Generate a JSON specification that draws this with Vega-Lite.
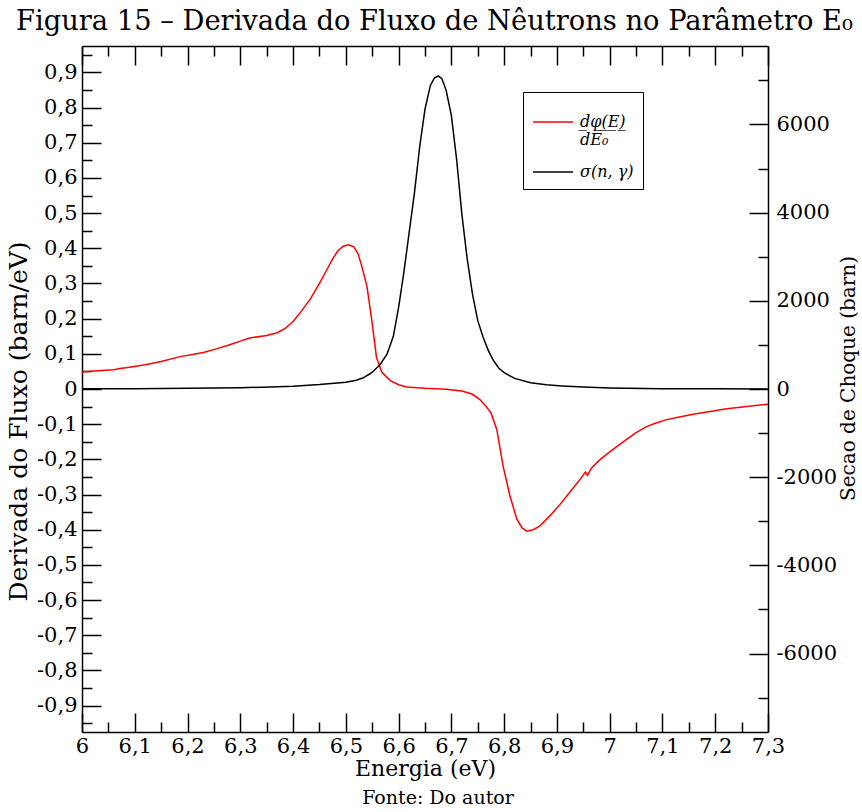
{
  "$schema": "https://vega.github.io/schema/vega-lite/v6.json",
  "width": 686,
  "height": 686,
  "autosize": {"type": "none"},
  "padding": {"left": 82, "top": 46, "right": 94, "bottom": 80},
  "background": "white",
  "title": {"text": "Fonte: Do autor", "orient": "bottom", "font": "DejaVu Serif", "fontSize": 19, "fontWeight": "normal", "color": "black", "anchor": "middle", "dx": 13, "offset": 10},
  "datasets": {
    "flux": [
      {"E": 6.0, "v": 0.048, "serie": "dφ(E)/dE₀"},
      {"E": 6.03, "v": 0.052, "serie": "dφ(E)/dE₀"},
      {"E": 6.06, "v": 0.055, "serie": "dφ(E)/dE₀"},
      {"E": 6.072, "v": 0.058, "serie": "dφ(E)/dE₀"},
      {"E": 6.09, "v": 0.062, "serie": "dφ(E)/dE₀"},
      {"E": 6.12, "v": 0.069, "serie": "dφ(E)/dE₀"},
      {"E": 6.15, "v": 0.078, "serie": "dφ(E)/dE₀"},
      {"E": 6.186, "v": 0.092, "serie": "dφ(E)/dE₀"},
      {"E": 6.21, "v": 0.098, "serie": "dφ(E)/dE₀"},
      {"E": 6.23, "v": 0.104, "serie": "dφ(E)/dE₀"},
      {"E": 6.255, "v": 0.114, "serie": "dφ(E)/dE₀"},
      {"E": 6.28, "v": 0.126, "serie": "dφ(E)/dE₀"},
      {"E": 6.30, "v": 0.136, "serie": "dφ(E)/dE₀"},
      {"E": 6.318, "v": 0.145, "serie": "dφ(E)/dE₀"},
      {"E": 6.35, "v": 0.152, "serie": "dφ(E)/dE₀"},
      {"E": 6.37, "v": 0.160, "serie": "dφ(E)/dE₀"},
      {"E": 6.385, "v": 0.172, "serie": "dφ(E)/dE₀"},
      {"E": 6.40, "v": 0.192, "serie": "dφ(E)/dE₀"},
      {"E": 6.415, "v": 0.220, "serie": "dφ(E)/dE₀"},
      {"E": 6.432, "v": 0.254, "serie": "dφ(E)/dE₀"},
      {"E": 6.45, "v": 0.300, "serie": "dφ(E)/dE₀"},
      {"E": 6.464, "v": 0.339, "serie": "dφ(E)/dE₀"},
      {"E": 6.475, "v": 0.370, "serie": "dφ(E)/dE₀"},
      {"E": 6.485, "v": 0.393, "serie": "dφ(E)/dE₀"},
      {"E": 6.495, "v": 0.406, "serie": "dφ(E)/dE₀"},
      {"E": 6.505, "v": 0.410, "serie": "dφ(E)/dE₀"},
      {"E": 6.515, "v": 0.404, "serie": "dφ(E)/dE₀"},
      {"E": 6.523, "v": 0.385, "serie": "dφ(E)/dE₀"},
      {"E": 6.53, "v": 0.350, "serie": "dφ(E)/dE₀"},
      {"E": 6.54, "v": 0.292, "serie": "dφ(E)/dE₀"},
      {"E": 6.549, "v": 0.197, "serie": "dφ(E)/dE₀"},
      {"E": 6.558, "v": 0.090, "serie": "dφ(E)/dE₀"},
      {"E": 6.568, "v": 0.048, "serie": "dφ(E)/dE₀"},
      {"E": 6.584, "v": 0.024, "serie": "dφ(E)/dE₀"},
      {"E": 6.60, "v": 0.012, "serie": "dφ(E)/dE₀"},
      {"E": 6.615, "v": 0.006, "serie": "dφ(E)/dE₀"},
      {"E": 6.65, "v": 0.002, "serie": "dφ(E)/dE₀"},
      {"E": 6.69, "v": -0.001, "serie": "dφ(E)/dE₀"},
      {"E": 6.72, "v": -0.006, "serie": "dφ(E)/dE₀"},
      {"E": 6.74, "v": -0.015, "serie": "dφ(E)/dE₀"},
      {"E": 6.754, "v": -0.030, "serie": "dφ(E)/dE₀"},
      {"E": 6.765, "v": -0.048, "serie": "dφ(E)/dE₀"},
      {"E": 6.775, "v": -0.068, "serie": "dφ(E)/dE₀"},
      {"E": 6.786, "v": -0.115, "serie": "dφ(E)/dE₀"},
      {"E": 6.798, "v": -0.219, "serie": "dφ(E)/dE₀"},
      {"E": 6.811, "v": -0.304, "serie": "dφ(E)/dE₀"},
      {"E": 6.824, "v": -0.370, "serie": "dφ(E)/dE₀"},
      {"E": 6.834, "v": -0.395, "serie": "dφ(E)/dE₀"},
      {"E": 6.843, "v": -0.404, "serie": "dφ(E)/dE₀"},
      {"E": 6.855, "v": -0.400, "serie": "dφ(E)/dE₀"},
      {"E": 6.868, "v": -0.389, "serie": "dφ(E)/dE₀"},
      {"E": 6.887, "v": -0.360, "serie": "dφ(E)/dE₀"},
      {"E": 6.906, "v": -0.328, "serie": "dφ(E)/dE₀"},
      {"E": 6.925, "v": -0.292, "serie": "dφ(E)/dE₀"},
      {"E": 6.944, "v": -0.257, "serie": "dφ(E)/dE₀"},
      {"E": 6.954, "v": -0.236, "serie": "dφ(E)/dE₀"},
      {"E": 6.958, "v": -0.245, "serie": "dφ(E)/dE₀"},
      {"E": 6.965, "v": -0.226, "serie": "dφ(E)/dE₀"},
      {"E": 6.98, "v": -0.203, "serie": "dφ(E)/dE₀"},
      {"E": 6.994, "v": -0.186, "serie": "dφ(E)/dE₀"},
      {"E": 7.012, "v": -0.165, "serie": "dφ(E)/dE₀"},
      {"E": 7.032, "v": -0.143, "serie": "dφ(E)/dE₀"},
      {"E": 7.05, "v": -0.124, "serie": "dφ(E)/dE₀"},
      {"E": 7.07, "v": -0.107, "serie": "dφ(E)/dE₀"},
      {"E": 7.085, "v": -0.098, "serie": "dφ(E)/dE₀"},
      {"E": 7.108, "v": -0.087, "serie": "dφ(E)/dE₀"},
      {"E": 7.13, "v": -0.080, "serie": "dφ(E)/dE₀"},
      {"E": 7.158, "v": -0.072, "serie": "dφ(E)/dE₀"},
      {"E": 7.19, "v": -0.064, "serie": "dφ(E)/dE₀"},
      {"E": 7.222, "v": -0.056, "serie": "dφ(E)/dE₀"},
      {"E": 7.26, "v": -0.050, "serie": "dφ(E)/dE₀"},
      {"E": 7.30, "v": -0.043, "serie": "dφ(E)/dE₀"}
    ],
    "sigma": [
      {"E": 6.0, "s": 3, "serie": "σ(n, γ)"},
      {"E": 6.1, "s": 8, "serie": "σ(n, γ)"},
      {"E": 6.2, "s": 15, "serie": "σ(n, γ)"},
      {"E": 6.3, "s": 28, "serie": "σ(n, γ)"},
      {"E": 6.4, "s": 60, "serie": "σ(n, γ)"},
      {"E": 6.45, "s": 100, "serie": "σ(n, γ)"},
      {"E": 6.5, "s": 155, "serie": "σ(n, γ)"},
      {"E": 6.52, "s": 200, "serie": "σ(n, γ)"},
      {"E": 6.533, "s": 254, "serie": "σ(n, γ)"},
      {"E": 6.545, "s": 340, "serie": "σ(n, γ)"},
      {"E": 6.552, "s": 403, "serie": "σ(n, γ)"},
      {"E": 6.565, "s": 555, "serie": "σ(n, γ)"},
      {"E": 6.578, "s": 790, "serie": "σ(n, γ)"},
      {"E": 6.59, "s": 1196, "serie": "σ(n, γ)"},
      {"E": 6.60, "s": 1850, "serie": "σ(n, γ)"},
      {"E": 6.61, "s": 2650, "serie": "σ(n, γ)"},
      {"E": 6.62, "s": 3550, "serie": "σ(n, γ)"},
      {"E": 6.63, "s": 4450, "serie": "σ(n, γ)"},
      {"E": 6.64, "s": 5500, "serie": "σ(n, γ)"},
      {"E": 6.65, "s": 6350, "serie": "σ(n, γ)"},
      {"E": 6.66, "s": 6880, "serie": "σ(n, γ)"},
      {"E": 6.668, "s": 7060, "serie": "σ(n, γ)"},
      {"E": 6.675, "s": 7100, "serie": "σ(n, γ)"},
      {"E": 6.682, "s": 7040, "serie": "σ(n, γ)"},
      {"E": 6.69, "s": 6780, "serie": "σ(n, γ)"},
      {"E": 6.70, "s": 6200, "serie": "σ(n, γ)"},
      {"E": 6.71, "s": 5200, "serie": "σ(n, γ)"},
      {"E": 6.72, "s": 3950, "serie": "σ(n, γ)"},
      {"E": 6.73, "s": 2950, "serie": "σ(n, γ)"},
      {"E": 6.74, "s": 2150, "serie": "σ(n, γ)"},
      {"E": 6.75, "s": 1550, "serie": "σ(n, γ)"},
      {"E": 6.76, "s": 1180, "serie": "σ(n, γ)"},
      {"E": 6.77, "s": 870, "serie": "σ(n, γ)"},
      {"E": 6.78, "s": 640, "serie": "σ(n, γ)"},
      {"E": 6.79, "s": 470, "serie": "σ(n, γ)"},
      {"E": 6.80, "s": 370, "serie": "σ(n, γ)"},
      {"E": 6.82, "s": 240, "serie": "σ(n, γ)"},
      {"E": 6.85, "s": 140, "serie": "σ(n, γ)"},
      {"E": 6.88, "s": 95, "serie": "σ(n, γ)"},
      {"E": 6.91, "s": 70, "serie": "σ(n, γ)"},
      {"E": 6.95, "s": 45, "serie": "σ(n, γ)"},
      {"E": 7.0, "s": 25, "serie": "σ(n, γ)"},
      {"E": 7.1, "s": 8, "serie": "σ(n, γ)"},
      {"E": 7.2, "s": 3, "serie": "σ(n, γ)"},
      {"E": 7.3, "s": 1, "serie": "σ(n, γ)"}
    ]
  },
  "config": {
    "view": {"stroke": null},
    "axis": {
      "domainColor": "black",
      "domainWidth": 1.5,
      "tickColor": "black",
      "tickWidth": 1.5,
      "labelFont": "DejaVu Serif",
      "labelFontSize": 21,
      "labelColor": "black",
      "titleFont": "DejaVu Serif",
      "titleFontWeight": "normal",
      "titleColor": "black",
      "grid": false,
      "labelFlush": false,
      "labelOverlap": false,
      "labelBound": false
    }
  },
  "layer": [
    {
      "data": {"name": "flux"},
      "mark": {"type": "line", "strokeWidth": 1.5, "clip": true},
      "encoding": {
        "x": {
          "field": "E", "type": "quantitative",
          "scale": {"domain": [6, 7.3], "nice": false, "zero": false},
          "axis": {
            "orient": "bottom",
            "values": [6, 6.05, 6.1, 6.15, 6.2, 6.25, 6.3, 6.35, 6.4, 6.45, 6.5, 6.55, 6.6, 6.65, 6.7, 6.75, 6.8, 6.85, 6.9, 6.95, 7, 7.05, 7.1, 7.15, 7.2, 7.25, 7.3],
            "labelExpr": "round(datum.value*20) % 2 != 0 ? '' : (round(datum.value*10) % 10 == 0 ? format(datum.value, '.0f') : replace(format(datum.value, '.1f'), '.', ','))",
            "tickSize": {"condition": {"test": "round(datum.value*20) % 2 == 0", "value": -19}, "value": -10},
            "labelPadding": 22,
            "title": "Energia (eV)",
            "titleFontSize": 22,
            "titlePadding": -7
          }
        },
        "y": {
          "field": "v", "type": "quantitative",
          "scale": {"domain": [-0.975, 0.975], "nice": false, "zero": false},
          "axis": {
            "orient": "left",
            "values": [-0.95, -0.9, -0.85, -0.8, -0.75, -0.7, -0.65, -0.6, -0.55, -0.5, -0.45, -0.4, -0.35, -0.3, -0.25, -0.2, -0.15, -0.1, -0.05, 0, 0.05, 0.1, 0.15, 0.2, 0.25, 0.3, 0.35, 0.4, 0.45, 0.5, 0.55, 0.6, 0.65, 0.7, 0.75, 0.8, 0.85, 0.9, 0.95],
            "labelExpr": "round(datum.value*20) % 2 != 0 ? '' : (abs(datum.value) < 0.001 ? '0' : (datum.value < 0 ? '-' : '') + replace(format(abs(datum.value), '.1f'), '.', ','))",
            "tickSize": {"condition": {"test": "round(datum.value*20) % 2 == 0", "value": -19}, "value": -10},
            "labelPadding": 24,
            "title": "Derivada do Fluxo (barn/eV)",
            "titleFontSize": 25,
            "titleAngle": 270,
            "titleX": -64,
            "titleY": 375,
            "titleAlign": "center",
            "titleBaseline": "middle"
          }
        },
        "color": {
          "field": "serie", "type": "nominal",
          "scale": {"domain": ["dφ(E)/dE₀", "σ(n, γ)"], "range": ["#ff0000", "#000000"]},
          "legend": {
            "orient": "none",
            "legendX": 441,
            "legendY": 46,
            "title": null,
            "strokeColor": "black",
            "fillColor": "white",
            "padding": 9,
            "symbolType": "stroke",
            "symbolSize": 1600,
            "symbolStrokeWidth": 1.5,
            "labelFont": "DejaVu Serif",
            "labelFontSize": 16,
            "labelFontStyle": "italic",
            "labelColor": "black",
            "labelOffset": 6,
            "rowPadding": 3,
            "labelExpr": "datum.label == 'σ(n, γ)' ? 'σ(n, γ)   ' : ['d̲φ̲(̲E̲)̲', 'dE₀']"
          }
        }
      }
    },
    {
      "data": {"name": "sigma"},
      "mark": {"type": "line", "strokeWidth": 1.5, "clip": true},
      "encoding": {
        "x": {
          "field": "E", "type": "quantitative",
          "scale": {"domain": [6, 7.3], "nice": false, "zero": false},
          "axis": {
            "orient": "top",
            "values": [6, 6.05, 6.1, 6.15, 6.2, 6.25, 6.3, 6.35, 6.4, 6.45, 6.5, 6.55, 6.6, 6.65, 6.7, 6.75, 6.8, 6.85, 6.9, 6.95, 7, 7.05, 7.1, 7.15, 7.2, 7.25, 7.3],
            "labels": false,
            "tickSize": {"condition": {"test": "round(datum.value*20) % 2 == 0", "value": -19}, "value": -10},
            "title": "Figura 15 – Derivada do Fluxo de Nêutrons no Parâmetro E₀",
            "titleFontSize": 27.3,
            "titleX": 352,
            "titleY": -17,
            "titleAlign": "center",
            "titleBaseline": "alphabetic"
          }
        },
        "y": {
          "field": "s", "type": "quantitative",
          "scale": {"domain": [-7780, 7780], "nice": false, "zero": false},
          "axis": {
            "orient": "right",
            "values": [-7000, -6000, -5000, -4000, -3000, -2000, -1000, 0, 1000, 2000, 3000, 4000, 5000, 6000, 7000],
            "labelExpr": "round(datum.value/1000) % 2 != 0 ? '' : (datum.value < 0 ? '-' : '') + format(abs(datum.value), 'd')",
            "tickSize": {"condition": {"test": "round(datum.value/1000) % 2 == 0", "value": -19}, "value": -10},
            "labelPadding": 27,
            "title": "Secao de Choque (barn)",
            "titleFontSize": 20,
            "titleAngle": 270,
            "titleX": 80,
            "titleY": 332,
            "titleAlign": "center",
            "titleBaseline": "middle"
          }
        },
        "color": {
          "field": "serie", "type": "nominal",
          "scale": {"domain": ["dφ(E)/dE₀", "σ(n, γ)"], "range": ["#ff0000", "#000000"]}
        }
      }
    }
  ],
  "resolve": {"scale": {"y": "independent"}, "axis": {"x": "independent"}}
}
